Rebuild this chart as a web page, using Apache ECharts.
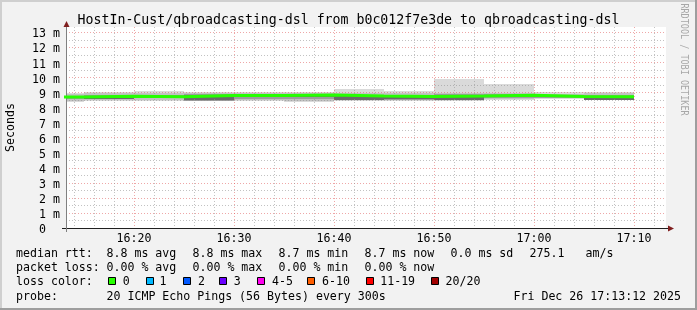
<!DOCTYPE html>
<html><head><meta charset="utf-8">
<script src="https://cdn.jsdelivr.net/npm/echarts@6/dist/echarts.min.js"></script>
<style>html,body{margin:0;padding:0;background:#f2f2f2}#c{width:697px;height:310px}</style>
</head><body><div id="c"></div>
<script>
// time in minutes after 16:00, one smoke step every 5 minutes
var segStart = [10, 15, 20, 25, 30, 35, 40, 45, 50, 55, 60, 65];
var segEnd   = [15, 20, 25, 30, 35, 40, 45, 50, 55, 60, 65, 70];
// round-trip times in ms
var pingMax  = [8.95, 9.04, 9.13, 9.04, 9.04, 9.04, 9.24, 9.10, 9.90, 9.57, 9.04, 9.04];
var pingMin  = [8.40, 8.44, 8.44, 8.44, 8.44, 8.40, 8.42, 8.44, 8.44, 8.51, 8.58, 8.51];
var band2Hi  = [8.88, 8.97, 9.00, 8.97, 8.97, 8.98, 9.00, 8.96, 9.00, 8.98, 8.92, 8.94];
var band2Lo  = [8.46, 8.50, 8.50, 8.47, 8.50, 8.46, 8.48, 8.50, 8.50, 8.56, 8.62, 8.54];
var band3Hi  = [8.80, 8.86, 8.86, 8.88, 8.88, 8.92, 8.86, 8.86, 8.88, 8.90, 8.82, 8.84];
var band3Lo  = [8.58, 8.62, 8.62, 8.46, 8.60, 8.55, 8.52, 8.52, 8.52, 8.64, 8.66, 8.54];
var band4Hi  = [8.74, 8.78, 8.75, 8.83, 8.82, 8.86, 8.79, 8.77, 8.80, 8.84, 8.76, 8.76];
var band4Lo  = [8.66, 8.58, 8.68, 8.48, 8.74, 8.72, 8.54, 8.55, 8.54, 8.78, 8.70, 8.54];
var median   = [8.70, 8.76, 8.72, 8.80, 8.80, 8.84, 8.77, 8.74, 8.77, 8.82, 8.74, 8.73];
var xTickValues = [20, 30, 40, 50, 60, 70];
var xTickLabels = ['16:20', '16:30', '16:40', '16:50', '17:00', '17:10'];
var lossLabels = ['0', '1', '2', '3', '4-5', '6-10', '11-19', '20/20'];
var lossColors = ['#26ff00', '#00b8ff', '#0059ff', '#6a00ff', '#ff00ee', '#ff5e00', '#ff0000', '#a10000'];

var SMOKE = ['#dadada', '#c2c2c2', '#9c9c9c', '#6a6a6a'];
var FONT = '"DejaVu Sans Mono", monospace';

var smokeData = [];
var layers = [[pingMin, pingMax], [band2Lo, band2Hi], [band3Lo, band3Hi], [band4Lo, band4Hi]];
layers.forEach(function (l, li) {
  for (var i = 0; i < segStart.length; i++) {
    smokeData.push([segStart[i], segEnd[i], l[0][i], l[1][i], li]);
  }
});
var medianData = [];
for (var i = 0; i < segStart.length; i++) medianData.push([segStart[i], median[i]]);
medianData.push([segEnd[segEnd.length - 1], median[median.length - 1]]);

var chart = echarts.init(document.getElementById('c'), null, {renderer: 'canvas'});

function txt(x, y, s, extra) {
  var st = {text: s, fontFamily: FONT, fontSize: 11.6, fill: '#000', align: 'left', verticalAlign: 'middle'};
  if (extra) for (var k in extra) st[k] = extra[k];
  return {type: 'text', x: x, y: y, style: st, silent: true, z: 100};
}

var G = [];
// 3D shade frame
G.push({type: 'rect', shape: {x: 0, y: 0, width: 697, height: 2}, style: {fill: '#cfcfcf'}, z: 90, silent: true});
G.push({type: 'rect', shape: {x: 0, y: 0, width: 2, height: 310}, style: {fill: '#cfcfcf'}, z: 90, silent: true});
G.push({type: 'rect', shape: {x: 0, y: 308, width: 697, height: 2}, style: {fill: '#9e9e9e'}, z: 91, silent: true});
G.push({type: 'rect', shape: {x: 695, y: 0, width: 2, height: 310}, style: {fill: '#9e9e9e'}, z: 91, silent: true});
// axis arrows and extensions
G.push({type: 'polygon', shape: {points: [[66.5, 21], [63.5, 27], [69.5, 27]]}, style: {fill: '#801f1f'}, z: 95, silent: true});
G.push({type: 'polygon', shape: {points: [[674, 228.5], [668, 225.5], [668, 231.5]]}, style: {fill: '#801f1f'}, z: 95, silent: true});
G.push({type: 'line', shape: {x1: 62, y1: 228.5, x2: 67, y2: 228.5}, style: {stroke: '#1f1f1f', lineWidth: 1}, z: 95, silent: true});
G.push({type: 'line', shape: {x1: 66.5, y1: 228, x2: 66.5, y2: 232}, style: {stroke: '#808080', lineWidth: 1}, z: 95, silent: true});
G.push({type: 'line', shape: {x1: 666, y1: 228.5, x2: 668, y2: 228.5}, style: {stroke: '#1f1f1f', lineWidth: 1}, z: 95, silent: true});
// title
G.push(txt(348.5, 20.2, 'HostIn-Cust/qbroadcasting-dsl from b0c012f7e3de to qbroadcasting-dsl', {fontSize: 13.24, align: 'center'}));
// y axis name
G.push({type: 'text', x: 11, y: 127.5, rotation: Math.PI / 2, style: {text: 'Seconds', fontFamily: FONT, fontSize: 11.6, fill: '#000', align: 'center', verticalAlign: 'middle'}, silent: true, z: 100});
// watermark
G.push({type: 'text', x: 684, y: 59.5, rotation: -Math.PI / 2, scaleX: 0.77, style: {text: 'RRDTOOL / TOBI OETIKER', fontFamily: FONT, fontSize: 11, fill: '#a8a8a8', align: 'center', verticalAlign: 'middle'}, silent: true, z: 100});

// legend lines
var L1 = 254, L2 = 268.3, L3 = 282.4, L4 = 297;
[['median rtt:', 16], ['8.8 ms avg', 106.5], ['8.8 ms max', 192.5], ['8.7 ms min', 278.5], ['8.7 ms now', 364.5], ['0.0 ms sd', 450.5], ['275.1', 529.5], ['am/s', 585.5]]
  .forEach(function (a) { G.push(txt(a[1], L1, a[0])); });
[['packet loss:', 16], ['0.00 % avg', 106.5], ['0.00 % max', 192.5], ['0.00 % min', 278.5], ['0.00 % now', 364.5]]
  .forEach(function (a) { G.push(txt(a[1], L2, a[0])); });
G.push(txt(16, L3, 'loss color:'));
var boxX = [108, 146, 183, 219, 257, 307, 366, 431];
var labX = [122.8, 159.5, 198, 233.8, 272, 322, 380.2, 445.5];
lossLabels.forEach(function (lab, i) {
  G.push({type: 'rect', shape: {x: boxX[i] + 0.5, y: 277.5, width: 7, height: 7}, style: {fill: lossColors[i], stroke: '#000', lineWidth: 1}, z: 100, silent: true});
  G.push(txt(labX[i], L3, lab));
});
G.push(txt(16, L4, 'probe:'));
G.push(txt(106.5, L4, '20 ICMP Echo Pings (56 Bytes) every 300s'));
G.push(txt(681, L4, 'Fri Dec 26 17:13:12 2025', {align: 'right'}));

var option = {
  animation: false,
  backgroundColor: '#f2f2f2',
  grid: {left: 66, top: 27, width: 600, height: 201, show: true, backgroundColor: '#ffffff', borderWidth: 0, containLabel: false},
  xAxis: {
    type: 'value', min: 13.2, max: 73.2, minInterval: 10, maxInterval: 10, splitNumber: 6, z: 3,
    axisLine: {show: true, onZero: false, lineStyle: {color: '#1f1f1f', width: 1}},
    axisTick: {show: false},
    axisLabel: {
      margin: 5, fontFamily: FONT, fontSize: 11.6, color: '#000', showMinLabel: false, showMaxLabel: false,
      formatter: function (v) { var k = xTickValues.indexOf(Math.round(v * 100) / 100); return k >= 0 ? xTickLabels[k] : ''; }
    },
    splitLine: {show: true, showMinLine: false, showMaxLine: false, lineStyle: {color: 'rgba(222,79,79,0.5)', type: [1, 2], width: 1}},
    minorTick: {show: false, splitNumber: 5},
    minorSplitLine: {show: true, lineStyle: {color: 'rgba(143,143,143,0.55)', type: [1, 2], width: 1}}
  },
  yAxis: {
    type: 'value', min: 0, max: 13.36, interval: 1, z: 3,
    axisLine: {show: true, lineStyle: {color: '#808080', width: 1}},
    axisTick: {show: false},
    axisLabel: {
      margin: 6, fontFamily: FONT, fontSize: 11.6, color: '#000', showMaxLabel: false,
      rich: {p: {fontFamily: FONT, fontSize: 11.6, color: '#000', padding: [4, 0, 0, 0]}},
      formatter: function (v) { if (Math.abs(v - Math.round(v)) > 1e-6) return ''; return '{p|' + (v === 0 ? '0  ' : Math.round(v) + ' m') + '}'; }
    },
    splitLine: {show: true, showMinLine: false, showMaxLine: false, lineStyle: {color: 'rgba(222,79,79,0.5)', type: [1, 2], width: 1}},
    minorTick: {show: false, splitNumber: 2},
    minorSplitLine: {show: true, lineStyle: {color: 'rgba(143,143,143,0.55)', type: [1, 2], width: 1}}
  },
  series: [
    {
      type: 'custom', z: 1, data: smokeData, encode: {x: [0, 1], y: [2, 3]},
      renderItem: function (params, api) {
        var p0 = api.coord([api.value(0), api.value(3)]);
        var p1 = api.coord([api.value(1), api.value(2)]);
        var x0 = Math.round(p0[0]), x1 = Math.round(p1[0]);
        var y0 = Math.round(p0[1]), y1 = Math.round(p1[1]);
        var cs = params.coordSys;
        var r = echarts.graphic.clipRectByRect({x: x0, y: y0, width: x1 - x0, height: y1 - y0},
          {x: cs.x, y: cs.y, width: cs.width, height: cs.height});
        if (!r) return null;
        return {type: 'rect', shape: r, style: {fill: SMOKE[api.value(4)]}};
      }
    },
    {
      type: 'line', z: 5, data: medianData, step: 'end', symbol: 'none', clip: true,
      lineStyle: {color: '#26ff00', width: 3}
    }
  ],
  graphic: G
};
chart.setOption(option);
</script></body></html>
